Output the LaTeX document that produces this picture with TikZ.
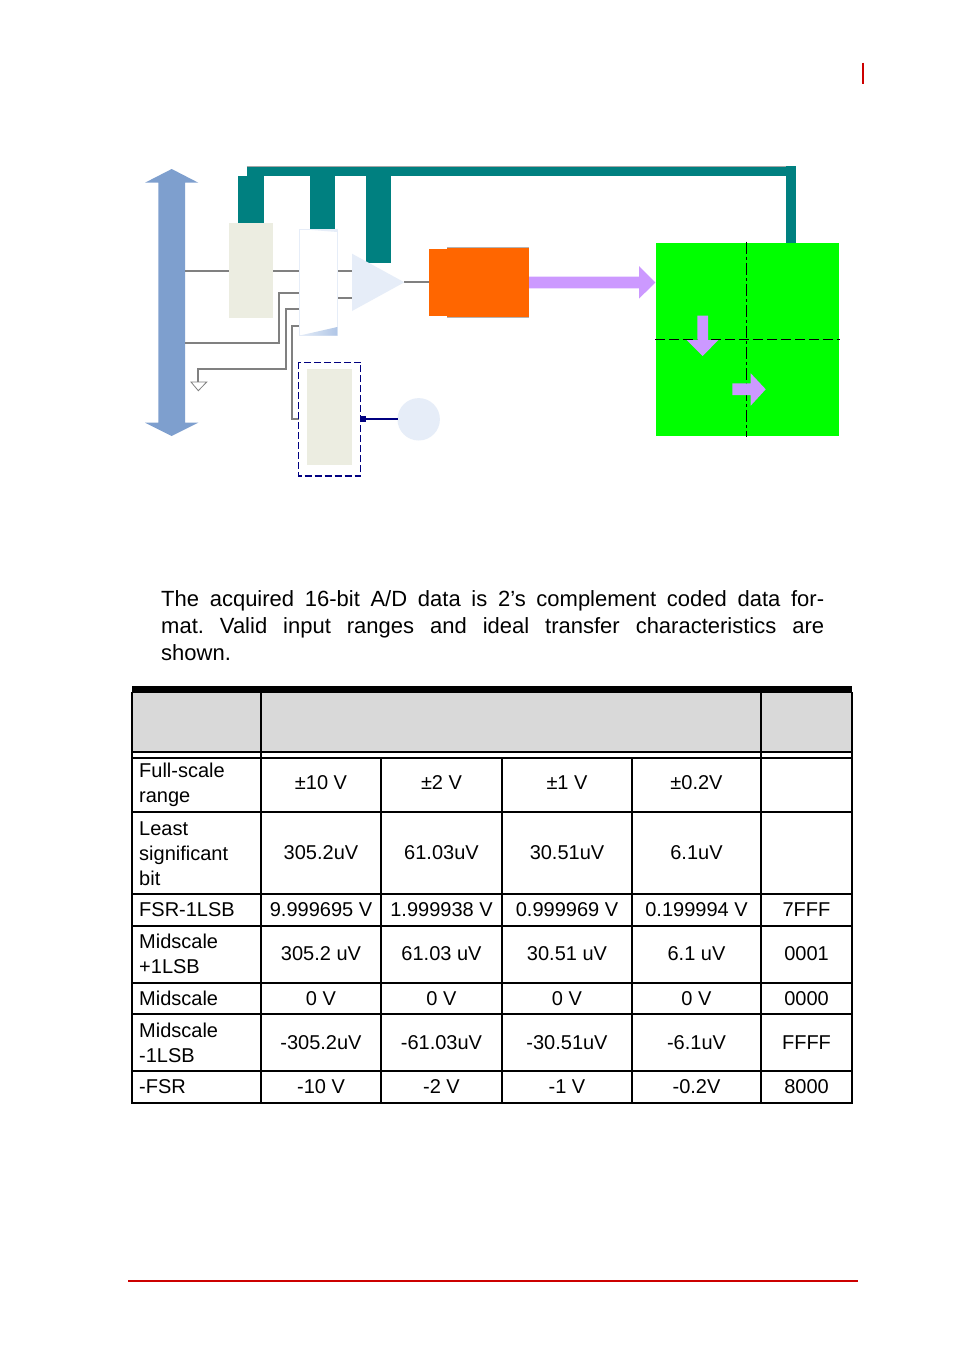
\documentclass[tikz,border=0pt]{standalone}
\usepackage{fontspec}
\setmainfont{Liberation Sans}
\frenchspacing
\definecolor{tealc}{RGB}{0,128,128}
\definecolor{busblue}{RGB}{126,159,206}
\definecolor{beige}{RGB}{236,237,225}
\definecolor{lblue}{RGB}{230,237,248}
\definecolor{mblue}{RGB}{176,198,230}
\definecolor{orangec}{RGB}{255,102,0}
\definecolor{purp}{RGB}{204,153,255}
\definecolor{greenc}{RGB}{0,255,0}
\definecolor{navyc}{RGB}{0,0,128}
\definecolor{redc}{RGB}{204,0,0}
\definecolor{hdr}{RGB}{217,217,217}
\definecolor{wire}{RGB}{128,128,128}
\begin{document}
\begin{tikzpicture}[x=1pt,y=-1pt,
  wirel/.style={draw=wire,line width=1.8pt},
  tline/.style={draw=black,line width=1.3pt},
  cell/.style={font=\fontsize{20}{25}\selectfont,inner sep=0pt,align=center},
  lab/.style={font=\fontsize{20}{25}\selectfont,inner sep=0pt,align=left,anchor=west},
  para/.style={font=\fontsize{22}{27}\selectfont,inner sep=0pt,anchor=base west}]
\useasboundingbox (0,0) rectangle (954,1352);
\fill[white] (0,0) rectangle (954,1352);

% ---------- header / footer marks
\draw[redc,line width=2.2pt] (862.8,62.7) -- (862.8,83.7);
\draw[redc,line width=2pt] (128,1280.5) -- (858,1280.5);

% ---------- diagram
% teal bus
\fill[tealc] (246.7,166) rectangle (795.7,176);
\draw[wire!70,line width=0.6pt] (246.7,166) -- (795.7,166);
\fill[tealc] (785.7,166) rectangle (795.7,243.3);
\fill[tealc] (238,176) rectangle (264,222.7);
\fill[tealc] (310,176) rectangle (335,236.7);
\fill[tealc] (366,176) rectangle (391,262.7);

% blue double arrow
\fill[busblue] (171.7,169) -- (198.3,182.7) -- (185,182.7) -- (185,422.7) -- (198.3,422.7)
  -- (171.7,436) -- (145,422.7) -- (158.3,422.7) -- (158.3,182.7) -- (145,182.7) -- cycle;

% wires
\coordinate (busA) at (185,270.7);
\coordinate (busB) at (185,343.3);
\draw[wirel] (busA) -- (229,270.7);
\draw[wirel] (273,270.7) -- (299,270.7);
\draw[wirel] (337.3,270.7) -- (352,270.7);
\draw[wirel] (337.3,297.7) -- (352,297.7);
\draw[wirel] (busB) -- (278.7,343.3) -- (278.7,292.7) -- (299,292.7);
\draw[wirel] (198.3,382) -- (198.3,369) -- (285.7,369) -- (285.7,308.7) -- (299,308.7);
\draw[wirel] (299,326.3) -- (292.3,326.3) -- (292.3,419) -- (299,419);
\draw[wirel] (404.3,282.3) -- (429,282.3);
% ground symbol
\draw[wire,line width=0.8pt,fill=white] (191,382) -- (206.7,382) -- (198.3,390.7) -- cycle;

% beige box 1
\fill[beige] (229,222.7) rectangle (273,317.7);

% multiplexer
\fill[white] (299,229) rectangle (337.3,335.7);
\draw[lblue,line width=0.6pt] (299,229) rectangle (337.3,335.7);
\shade[left color=lblue,right color=mblue] (299,335.7) -- (337.3,327) -- (337.3,335.7) -- cycle;
\fill[lblue] (299,229) -- (337.3,229) -- (337.3,232) -- cycle;

% amplifier
\fill[lblue] (352,253.7) -- (404.3,282.3) -- (352,311) -- cycle;

% orange ADC
\fill[orangec] (429,249) rectangle (447,315.7);
\fill[orangec] (447,247.3) rectangle (529,317.3);
\draw[wire!60,line width=0.6pt] (447,247.3) -- (529,247.3);
\draw[wire!60,line width=0.6pt] (447,317.3) -- (529,317.3);

% purple arrow
\fill[purp] (529,276.7) -- (639,276.7) -- (639,266) -- (655.3,282.5) -- (639,298.7) -- (639,288.3) -- (529,288.3) -- cycle;

% green box
\fill[greenc] (656,243) rectangle (839,435.7);
\draw[black,line width=1.2pt,dash pattern=on 12pt off 3pt on 3pt off 3pt] (746.7,241.7) -- (746.7,436.7);
\draw[black,line width=1.2pt,dash pattern=on 10pt off 4pt] (655,339.3) -- (840,339.3);
% small purple arrows
\fill[purp] (697.3,315.7) -- (708,315.7) -- (708,340) -- (718.3,340) -- (702.7,356) -- (686.7,340) -- (697.3,340) -- cycle;
\fill[purp] (732.3,383.3) -- (750.7,383.3) -- (750.7,373.3) -- (765.7,389.3) -- (750.7,405.7) -- (750.7,395) -- (732.3,395) -- cycle;

% dashed navy box
\fill[beige] (306.7,369) rectangle (352,465);
\draw[navyc,line width=1.4pt,dash pattern=on 7pt off 3pt] (298.3,362.3) rectangle (360.7,476);
% connector to circle
\fill[lblue] (418.7,419.3) circle (21.2);
\draw[navyc,line width=1.8pt] (363,419) -- (397.5,419);
\fill[navyc] (360,416) rectangle (366,422);

% ---------- paragraph
\node[para] (p1) at (161,606) {\makebox[663pt][s]{The acquired 16-bit A/D data is 2’s complement coded data for-}};
\node[para] (p2) at (161,633) {\makebox[663pt][s]{mat. Valid input ranges and ideal transfer characteristics are}};
\node[para] (p3) at (161,660) {shown.};

% ---------- table
\fill[black] (132,686) rectangle (852,692.5);
\fill[hdr] (132,692.5) rectangle (852,752);
\foreach \yy in {752,758,812,894,983,1014,1071,1103} \draw[tline] (132,\yy) -- (852,\yy);
\draw[black,line width=2.3pt] (132,926) -- (852,926);
\foreach \xx in {132,261,761,852} \draw[tline] (\xx,692) -- (\xx,1103.6);
\foreach \xx in {381,502,632} \draw[tline] (\xx,758) -- (\xx,1103.6);

% row 1
\node[lab] (r1a) at (139,784.5) {Full-scale\\range};
\node[cell] (r1b) at (321,783) {±10 V};
\node[cell] (r1c) at (441.5,783) {±2 V};
\node[cell] (r1d) at (567,783) {±1 V};
\node[cell] (r1e) at (696.5,783) {±0.2V};
% row 2
\node[lab] (r2a) at (139,853.5) {Least\\significant\\bit};
\node[cell] (r2b) at (321,853) {305.2uV};
\node[cell] (r2c) at (441.5,853) {61.03uV};
\node[cell] (r2d) at (567,853) {30.51uV};
\node[cell] (r2e) at (696.5,853) {6.1uV};
% row 3
\node[lab] (r3a) at (139,909.5) {FSR-1LSB};
\node[cell] (r3b) at (321,909.5) {9.999695 V};
\node[cell] (r3c) at (441.5,909.5) {1.999938 V};
\node[cell] (r3d) at (567,909.5) {0.999969 V};
\node[cell] (r3e) at (696.5,909.5) {0.199994 V};
\node[cell] (r3f) at (806.5,909.5) {7FFF};
% row 4
\node[lab] (r4a) at (139,954) {Midscale\\+1LSB};
\node[cell] (r4b) at (321,954) {305.2 uV};
\node[cell] (r4c) at (441.5,954) {61.03 uV};
\node[cell] (r4d) at (567,954) {30.51 uV};
\node[cell] (r4e) at (696.5,954) {6.1 uV};
\node[cell] (r4f) at (806.5,954) {0001};
% row 5
\node[lab] (r5a) at (139,998.5) {Midscale};
\node[cell] (r5b) at (321,998.5) {0 V};
\node[cell] (r5c) at (441.5,998.5) {0 V};
\node[cell] (r5d) at (567,998.5) {0 V};
\node[cell] (r5e) at (696.5,998.5) {0 V};
\node[cell] (r5f) at (806.5,998.5) {0000};
% row 6
\node[lab] (r6a) at (139,1042.5) {Midscale\\-1LSB};
\node[cell] (r6b) at (321,1042.5) {-305.2uV};
\node[cell] (r6c) at (441.5,1042.5) {-61.03uV};
\node[cell] (r6d) at (567,1042.5) {-30.51uV};
\node[cell] (r6e) at (696.5,1042.5) {-6.1uV};
\node[cell] (r6f) at (806.5,1042.5) {FFFF};
% row 7
\node[lab] (r7a) at (139,1087) {-FSR};
\node[cell] (r7b) at (321,1087) {-10 V};
\node[cell] (r7c) at (441.5,1087) {-2 V};
\node[cell] (r7d) at (567,1087) {-1 V};
\node[cell] (r7e) at (696.5,1087) {-0.2V};
\node[cell] (r7f) at (806.5,1087) {8000};
\end{tikzpicture}
\end{document}
